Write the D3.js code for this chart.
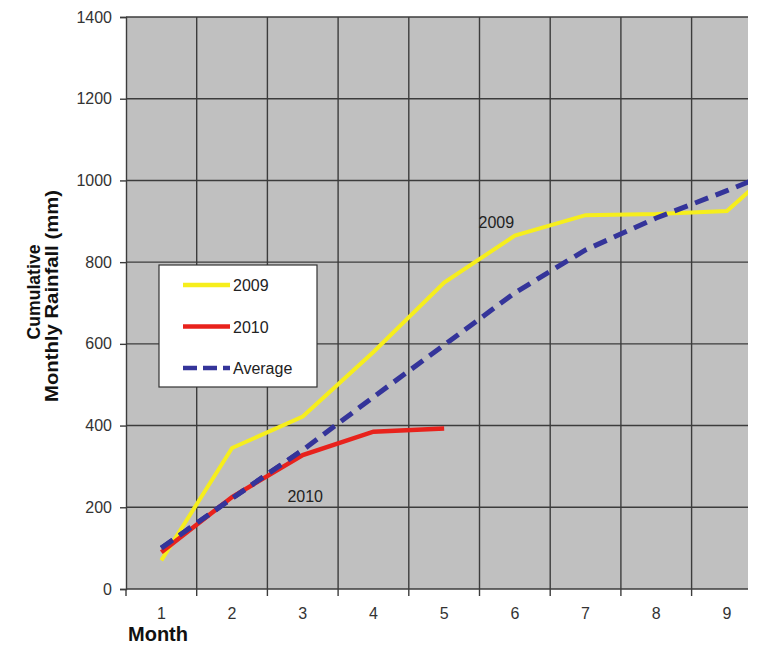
<!DOCTYPE html>
<html>
<head>
<meta charset="utf-8">
<script src="https://cdn.jsdelivr.net/npm/d3@7"></script>
<style>
  body { margin: 0; background: #fff; }
  svg { display: block; font-family: Arial, "Liberation Sans", sans-serif; }
</style>
</head>
<body>
<svg id="chart" width="758" height="645"></svg>
<script>
const months = [1, 2, 3, 4, 5, 6, 7, 8, 9, 10]
const rain2009 = [70, 345, 422, 580, 750, 865, 915, 918, 925, 1080]
const rain2010 = [90, 225, 328, 385, 393]
const rainAvg = [100, 222, 340, 470, 597, 725, 830, 908, 975, 1045]
const yTicks = [0, 200, 400, 600, 800, 1000, 1200, 1400]

const svg = d3.select("#chart")
const margin = {top: 17, left: 126, bottom: 56}
const band = 70.7
const plotRight = 748
const height = 645
const font = "Arial, 'Liberation Sans', sans-serif"

const x = d3.scaleBand()
  .domain(months)
  .range([margin.left, margin.left + band * months.length])

const y = d3.scaleLinear()
  .domain([0, 1400])
  .range([height - margin.bottom, margin.top])

svg.append("clipPath").attr("id", "plotClip")
  .append("rect")
  .attr("x", margin.left)
  .attr("y", margin.top - 3)
  .attr("width", plotRight - margin.left)
  .attr("height", y(0) - margin.top + 6)

// background
svg.append("rect")
  .attr("x", margin.left)
  .attr("y", margin.top)
  .attr("width", plotRight - margin.left)
  .attr("height", y(0) - margin.top)
  .attr("fill", "#c0c0c0")

const grid = svg.append("g").attr("clip-path", "url(#plotClip)")

grid.selectAll(".hgrid")
  .data(yTicks.filter(d => d > 0))
  .enter()
  .append("line")
  .attr("class", "hgrid")
  .attr("x1", margin.left)
  .attr("x2", plotRight)
  .attr("y1", d => y(d))
  .attr("y2", d => y(d))
  .attr("stroke", "#3c3c3c")
  .attr("stroke-width", 1.4)

grid.selectAll(".vgrid")
  .data(months.slice(1))
  .enter()
  .append("line")
  .attr("class", "vgrid")
  .attr("x1", d => x(d))
  .attr("x2", d => x(d))
  .attr("y1", margin.top)
  .attr("y2", y(0))
  .attr("stroke", "#3c3c3c")
  .attr("stroke-width", 1.4)

// y axis
const yAxis = svg.append("g")
  .attr("transform", `translate(${margin.left}, 0)`)
  .call(d3.axisLeft(y).tickValues(yTicks).tickFormat(d3.format("d")).tickSize(6).tickPadding(8))
yAxis.select(".domain").attr("stroke", "#3c3c3c").attr("stroke-width", 1.4)
yAxis.selectAll(".tick line").attr("stroke", "#3c3c3c").attr("stroke-width", 1.4)
yAxis.selectAll(".tick text")
  .attr("font-size", 16)
  .attr("fill", "#333")
  .attr("font-family", font)

// x axis
const xAxisG = svg.append("g")
  .attr("transform", `translate(0, ${y(0)})`)
xAxisG.append("line")
  .attr("x1", margin.left)
  .attr("x2", plotRight)
  .attr("stroke", "#3c3c3c")
  .attr("stroke-width", 1.4)
xAxisG.selectAll(".xtick")
  .data(months.filter(d => x(d) < plotRight))
  .enter()
  .append("line")
  .attr("class", "xtick")
  .attr("x1", d => x(d))
  .attr("x2", d => x(d))
  .attr("y1", 0)
  .attr("y2", 7)
  .attr("stroke", "#3c3c3c")
  .attr("stroke-width", 1.4)
xAxisG.selectAll(".xlabel")
  .data(months.filter(d => x(d) + x.bandwidth() / 2 < plotRight))
  .enter()
  .append("text")
  .attr("class", "xlabel")
  .attr("x", d => x(d) + x.bandwidth() / 2)
  .attr("y", 30)
  .attr("text-anchor", "middle")
  .attr("font-size", 16)
  .attr("fill", "#333")
  .text(d => d)

// lines
const line = d3.line()
  .x((d, i) => x(months[i]) + x.bandwidth() / 2)
  .y(d => y(d))

const lines = svg.append("g").attr("clip-path", "url(#plotClip)")

lines.append("path")
  .datum(rain2009)
  .attr("d", line)
  .attr("fill", "none")
  .attr("stroke", "#f6ee1c")
  .attr("stroke-width", 4)

lines.append("path")
  .datum(rainAvg)
  .attr("d", line)
  .attr("fill", "none")
  .attr("stroke", "#34349a")
  .attr("stroke-width", 5)
  .attr("stroke-dasharray", "14,8")

lines.append("path")
  .datum(rain2010)
  .attr("d", line)
  .attr("fill", "none")
  .attr("stroke", "#e8221c")
  .attr("stroke-width", 4.5)

// average dashes show over the start of 2010 in the original
lines.append("path")
  .datum(rainAvg.slice(0, 3))
  .attr("d", line)
  .attr("fill", "none")
  .attr("stroke", "#34349a")
  .attr("stroke-width", 5)
  .attr("stroke-dasharray", "14,8")

// annotations
svg.append("text")
  .attr("x", x(6) - 1)
  .attr("y", y(900) + 7)
  .attr("font-size", 16)
  .attr("fill", "#222")
  .text("2009")

svg.append("text")
  .attr("x", x(3) + 20)
  .attr("y", y(230) + 7)
  .attr("font-size", 16)
  .attr("fill", "#222")
  .text("2010")

// legend
const legend = svg.append("g").attr("transform", "translate(159, 265)")
legend.append("rect")
  .attr("width", 158)
  .attr("height", 122)
  .attr("fill", "#fff")
  .attr("stroke", "#333")
  .attr("stroke-width", 1.2)

const legendItems = [
  {name: "2009", color: "#f6ee1c", dash: null},
  {name: "2010", color: "#e8221c", dash: null},
  {name: "Average", color: "#34349a", dash: "14,6"}
]
legendItems.forEach((d, i) => {
  const ly = 20 + i * 41.5
  legend.append("line")
    .attr("x1", 24)
    .attr("x2", 71)
    .attr("y1", ly)
    .attr("y2", ly)
    .attr("stroke", d.color)
    .attr("stroke-width", 4.5)
    .attr("stroke-dasharray", d.dash)
  legend.append("text")
    .attr("x", 74)
    .attr("y", ly + 6)
    .attr("font-size", 16)
    .attr("fill", "#222")
    .text(d.name)
})

// axis titles
svg.append("text")
  .attr("transform", "translate(40, 292) rotate(-90)")
  .attr("text-anchor", "middle")
  .attr("font-size", 18)
  .attr("font-weight", "bold")
  .attr("fill", "#111")
  .attr("textLength", 95)
  .attr("lengthAdjust", "spacingAndGlyphs")
  .text("Cumulative")
svg.append("text")
  .attr("transform", "translate(58, 296) rotate(-90)")
  .attr("text-anchor", "middle")
  .attr("font-size", 18)
  .attr("font-weight", "bold")
  .attr("fill", "#111")
  .attr("textLength", 212)
  .attr("lengthAdjust", "spacingAndGlyphs")
  .text("Monthly Rainfall (mm)")

svg.append("text")
  .attr("x", 128)
  .attr("y", 641)
  .attr("font-size", 20)
  .attr("font-weight", "bold")
  .attr("fill", "#111")
  .text("Month")
</script>
</body>
</html>
